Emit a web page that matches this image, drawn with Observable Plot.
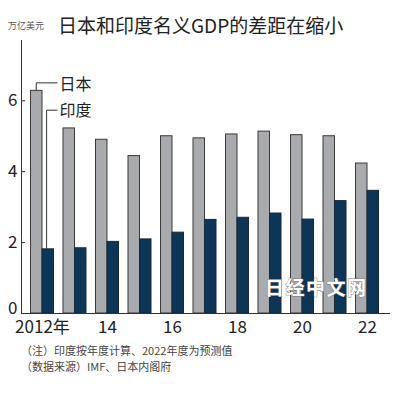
<!DOCTYPE html>
<html>
<head>
<meta charset="utf-8">
<script src="https://cdn.jsdelivr.net/npm/d3@7"></script>
<script src="https://cdn.jsdelivr.net/npm/@observablehq/plot@0.6"></script>
<style>
  body { margin: 0; background: #fff; }
  #wrap { position: relative; width: 400px; height: 394px; overflow: hidden;
    font-family: "Noto Sans CJK SC", "Noto Sans", sans-serif; }
  #wrap svg { position: absolute; left: 0; top: 0; }
  .unit { position: absolute; left: 8px; top: 19px; font-size: 9px; color: #555; }
  .title { position: absolute; left: 58px; top: 11px; font-size: 19px; color: #222; white-space: nowrap; }
  .note { position: absolute; left: 21px; font-size: 11px; color: #444; white-space: nowrap; }
</style>
</head>
<body>
<div id="wrap">
  <div class="unit">万亿美元</div>
  <div class="title">日本和印度名义GDP的差距在缩小</div>
  <div class="note" style="top:342px">（注）印度按年度计算、2022年度为预测值</div>
  <div class="note" style="top:358px">（数据来源）IMF、日本内阁府</div>
</div>
<script>
const years = [2012, 2013, 2014, 2015, 2016, 2017, 2018, 2019, 2020, 2021, 2022];
const japan = [6.28, 5.22, 4.90, 4.44, 5.00, 4.94, 5.05, 5.13, 5.03, 5.00, 4.23];
const india = [1.81, 1.84, 2.02, 2.09, 2.28, 2.64, 2.70, 2.82, 2.65, 3.17, 3.46];
const yTicks = [2, 4, 6];
const yZeroTick = [0];
const xTicks = [2012, 2014, 2016, 2018, 2020, 2022];
const seriesNames = ["日本", "印度"];

const jp = years.map((y, i) => ({year: y, value: japan[i]}));
const ind = years.map((y, i) => ({year: y, value: india[i]}));

const numFont = "'Liberation Sans Narrow', 'Noto Sans CJK SC', sans-serif";

const plot = Plot.plot({
  width: 400,
  height: 394,
  marginLeft: 21,
  marginRight: 12,
  marginTop: 40,
  marginBottom: 81,
  style: {background: "transparent", fontFamily: numFont, fontSize: "17px", color: "#222", overflow: "visible"},
  x: {type: "band", domain: years, padding: 0.292, round: false, label: null},
  y: {domain: [0, 7.7], label: null},
  marks: [
    Plot.barY(jp, {x: "year", y: "value", fill: "#a9aaae", stroke: "#3a3a3a", strokeWidth: 1, insetRight: 11.5}),
    Plot.barY(ind, {x: "year", y: "value", fill: "#0d3558", stroke: "#1a2a3a", strokeWidth: 1, insetLeft: 11.5}),
    Plot.axisY({ticks: yTicks, tickSize: -4, tickPadding: 8, fontSize: 17, fontFamily: numFont, stroke: "#333", label: null}),
    Plot.axisY({ticks: yZeroTick, tickSize: 0, tickPadding: 4, dy: -5, fontSize: 17, fontFamily: numFont, label: null}),
    Plot.axisX({ticks: xTicks, tickSize: 0, tickPadding: 7, fontSize: 17, fontFamily: numFont, label: null,
      tickFormat: d => d === 2012 ? "2012年" : String(d).slice(2)}),
    Plot.frame({anchor: "left", stroke: "#333"}),
    Plot.ruleY([0], {stroke: "#333", insetRight: -2})
  ]
});
document.getElementById("wrap").prepend(plot);

// leader lines and series labels, positioned from the plot's own scales
const sx = plot.scale("x"), sy = plot.scale("y");
const x0 = sx.apply(years[0]), bw = sx.bandwidth;
const svg = d3.select(plot);
const labelX = x0 + bw + 5;
const jx = x0 + bw / 4, jTop = sy.apply(japan[0]), jLine = jTop - 7.5;
const ix = x0 + bw * 0.7, iTop = sy.apply(india[0]), iLine = sy.apply(5.72);
const g = svg.append("g").attr("fill", "none").attr("stroke", "#333").attr("stroke-width", 1);
g.append("path").attr("d", `M${jx},${jTop}V${jLine}H${labelX - 1}`);
g.append("path").attr("d", `M${ix},${iTop}V${iLine}H${labelX - 1}`);
const t = svg.append("g").attr("font-family", "'Noto Sans CJK SC', sans-serif").attr("font-size", 16)
  .attr("fill", "#222").attr("text-anchor", "start");
t.append("text").attr("x", labelX + 1).attr("y", jLine + 2).attr("dy", "0.35em").text(seriesNames[0]);
t.append("text").attr("x", labelX + 1).attr("y", iLine).attr("dy", "0.35em").text(seriesNames[1]);

// watermark
svg.append("text").attr("x", 265).attr("y", 288).attr("dy", "0.35em").attr("text-anchor", "start")
  .attr("font-family", "'Noto Sans CJK SC', sans-serif").attr("font-weight", "bold")
  .attr("font-size", 19).attr("letter-spacing", 1.5)
  .attr("fill", "#fff").attr("stroke", "#777").attr("stroke-width", 0.8)
  .attr("paint-order", "stroke")
  .text("日经中文网");
</script>
</body>
</html>
